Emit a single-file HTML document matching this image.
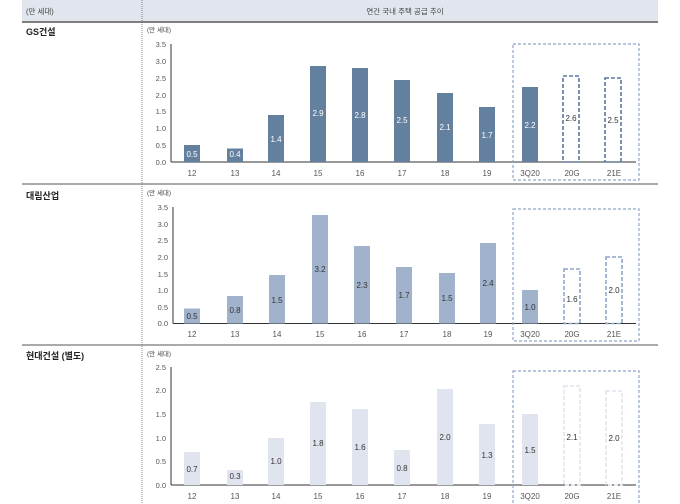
<!DOCTYPE html>
<html><head><meta charset="utf-8"><style>
body{margin:0;background:#fff;}
svg{display:block;font-family:"Liberation Sans","Noto Sans CJK KR",sans-serif;}
.t{font-size:7.5px;fill:#444;}
.k{font-size:8px;fill:#555;text-anchor:middle;}
.y{font-size:7.5px;fill:#555;text-anchor:end;}
.w{font-size:8px;fill:#fff;text-anchor:middle;}
.d{font-size:8px;fill:#333;text-anchor:middle;}
.h{font-size:9px;font-weight:bold;fill:#222;}
</style></head><body>
<svg width="680" height="504" viewBox="0 0 680 504">
<rect x="22" y="0" width="636" height="21" fill="#e0e5ee"/>
<line x1="22" y1="22" x2="658" y2="22" stroke="#333" stroke-width="1.2"/>
<text x="26" y="14" class="t">(만 세대)</text>
<text x="405" y="14" class="t" text-anchor="middle">연간 국내 주택 공급 추이</text>
<line x1="142" y1="0" x2="142" y2="504" stroke="#666" stroke-width="0.8" stroke-dasharray="1,1"/>
<line x1="22" y1="184" x2="658" y2="184" stroke="#777" stroke-width="1.2"/>
<line x1="22" y1="345" x2="658" y2="345" stroke="#777" stroke-width="1.2"/>

<!-- chart 1 -->
<text x="26" y="35" class="h">GS건설</text>
<text x="147" y="32" class="t" style="font-size:6.5px">(만 세대)</text>
<g class="y"><text x="166" y="47">3.5</text><text x="166" y="64">3.0</text><text x="166" y="81">2.5</text><text x="166" y="98">2.0</text><text x="166" y="114">1.5</text><text x="166" y="131">1.0</text><text x="166" y="148">0.5</text><text x="166" y="165">0.0</text></g>
<line x1="171" y1="44" x2="171" y2="162" stroke="#333"/>
<line x1="171" y1="162" x2="636" y2="162" stroke="#333"/>
<g fill="#64809f">
<rect x="184" y="145" width="16" height="17"/><rect x="227" y="148.5" width="16" height="13.5"/><rect x="268" y="115" width="16" height="47"/><rect x="310" y="66" width="16" height="96"/><rect x="352" y="68" width="16" height="94"/><rect x="394" y="80" width="16" height="82"/><rect x="437" y="93" width="16" height="69"/><rect x="479" y="107" width="16" height="55"/><rect x="522" y="87" width="16" height="75"/></g>
<g fill="none" stroke="#5a78a0" stroke-width="1.6" stroke-dasharray="4,2"><rect x="563" y="76" width="16" height="86"/><rect x="605" y="78" width="16" height="84"/></g>
<rect x="513" y="44" width="126" height="136" fill="none" stroke="#8ea6c8" stroke-width="1.2" stroke-dasharray="3,2"/>
<g class="w"><text x="192" y="157">0.5</text><text x="235" y="157">0.4</text><text x="276" y="142">1.4</text><text x="318" y="116">2.9</text><text x="360" y="118">2.8</text><text x="402" y="123">2.5</text><text x="445" y="130">2.1</text><text x="487" y="138">1.7</text><text x="530" y="128">2.2</text></g>
<g class="d"><text x="571" y="121">2.6</text><text x="613" y="123">2.5</text></g>
<g class="k"><text x="192" y="176">12</text><text x="235" y="176">13</text><text x="276" y="176">14</text><text x="318" y="176">15</text><text x="360" y="176">16</text><text x="402" y="176">17</text><text x="445" y="176">18</text><text x="487" y="176">19</text><text x="530" y="176">3Q20</text><text x="572" y="176">20G</text><text x="614" y="176">21E</text></g>

<!-- chart 2 -->
<text x="26" y="199" class="h">대림산업</text>
<text x="147" y="195" class="t" style="font-size:6.5px">(만 세대)</text>
<g class="y"><text x="168" y="210">3.5</text><text x="168" y="227">3.0</text><text x="168" y="243">2.5</text><text x="168" y="260">2.0</text><text x="168" y="277">1.5</text><text x="168" y="293">1.0</text><text x="168" y="310">0.5</text><text x="168" y="326">0.0</text></g>
<line x1="173" y1="207" x2="173" y2="323.5" stroke="#333"/>
<line x1="173" y1="323.5" x2="636" y2="323.5" stroke="#333"/>
<g fill="#a1b2cc">
<rect x="184" y="308.5" width="16" height="15"/><rect x="227" y="296" width="16" height="27.5"/><rect x="269" y="275" width="16" height="48.5"/><rect x="312" y="215" width="16" height="108.5"/><rect x="354" y="246" width="16" height="77.5"/><rect x="396" y="267" width="16" height="56.5"/><rect x="439" y="273" width="16" height="50.5"/><rect x="480" y="243" width="16" height="80.5"/><rect x="522" y="290" width="16" height="33.5"/></g>
<g fill="none" stroke="#8ea6c8" stroke-width="1.6" stroke-dasharray="4,2"><rect x="564" y="269" width="16" height="54.5"/><rect x="606" y="257" width="16" height="66.5"/></g>
<rect x="513" y="209" width="126" height="132" fill="none" stroke="#8ea6c8" stroke-width="1.2" stroke-dasharray="3,2"/>
<g class="d"><text x="192" y="319">0.5</text><text x="235" y="313">0.8</text><text x="277" y="303">1.5</text><text x="320" y="272">3.2</text><text x="362" y="288">2.3</text><text x="404" y="298">1.7</text><text x="447" y="301">1.5</text><text x="488" y="286">2.4</text><text x="530" y="310">1.0</text><text x="572" y="302">1.6</text><text x="614" y="293">2.0</text></g>
<g class="k"><text x="192" y="337">12</text><text x="235" y="337">13</text><text x="277" y="337">14</text><text x="320" y="337">15</text><text x="362" y="337">16</text><text x="404" y="337">17</text><text x="447" y="337">18</text><text x="488" y="337">19</text><text x="530" y="337">3Q20</text><text x="572" y="337">20G</text><text x="614" y="337">21E</text></g>

<!-- chart 3 -->
<text x="26" y="359" class="h">현대건설 (별도)</text>
<text x="147" y="356" class="t" style="font-size:6.5px">(만 세대)</text>
<g class="y"><text x="166" y="370">2.5</text><text x="166" y="393">2.0</text><text x="166" y="417">1.5</text><text x="166" y="441">1.0</text><text x="166" y="464">0.5</text><text x="166" y="488">0.0</text></g>
<line x1="171" y1="367" x2="171" y2="485" stroke="#333"/>
<line x1="171" y1="485" x2="636" y2="485" stroke="#333"/>
<g fill="#dfe4ee">
<rect x="184" y="452" width="16" height="33"/><rect x="227" y="470" width="16" height="15"/><rect x="268" y="438" width="16" height="47"/><rect x="310" y="402" width="16" height="83"/><rect x="352" y="409" width="16" height="76"/><rect x="394" y="450" width="16" height="35"/><rect x="437" y="389" width="16" height="96"/><rect x="479" y="424" width="16" height="61"/><rect x="522" y="414" width="16" height="71"/></g>
<g fill="none" stroke="#dfe4ee" stroke-width="1.6" stroke-dasharray="4,2"><rect x="564" y="386" width="16" height="99"/><rect x="606" y="391" width="16" height="94"/></g>
<rect x="513" y="371" width="126" height="140" fill="none" stroke="#8ea6c8" stroke-width="1.2" stroke-dasharray="3,2"/>
<g class="d"><text x="192" y="472">0.7</text><text x="235" y="479">0.3</text><text x="276" y="464">1.0</text><text x="318" y="446">1.8</text><text x="360" y="450">1.6</text><text x="402" y="471">0.8</text><text x="445" y="440">2.0</text><text x="487" y="458">1.3</text><text x="530" y="453">1.5</text><text x="572" y="440">2.1</text><text x="614" y="441">2.0</text></g>
<g class="k"><text x="192" y="499">12</text><text x="235" y="499">13</text><text x="276" y="499">14</text><text x="318" y="499">15</text><text x="360" y="499">16</text><text x="402" y="499">17</text><text x="445" y="499">18</text><text x="487" y="499">19</text><text x="530" y="499">3Q20</text><text x="572" y="499">20G</text><text x="614" y="499">21E</text></g>
</svg>
</body></html>
